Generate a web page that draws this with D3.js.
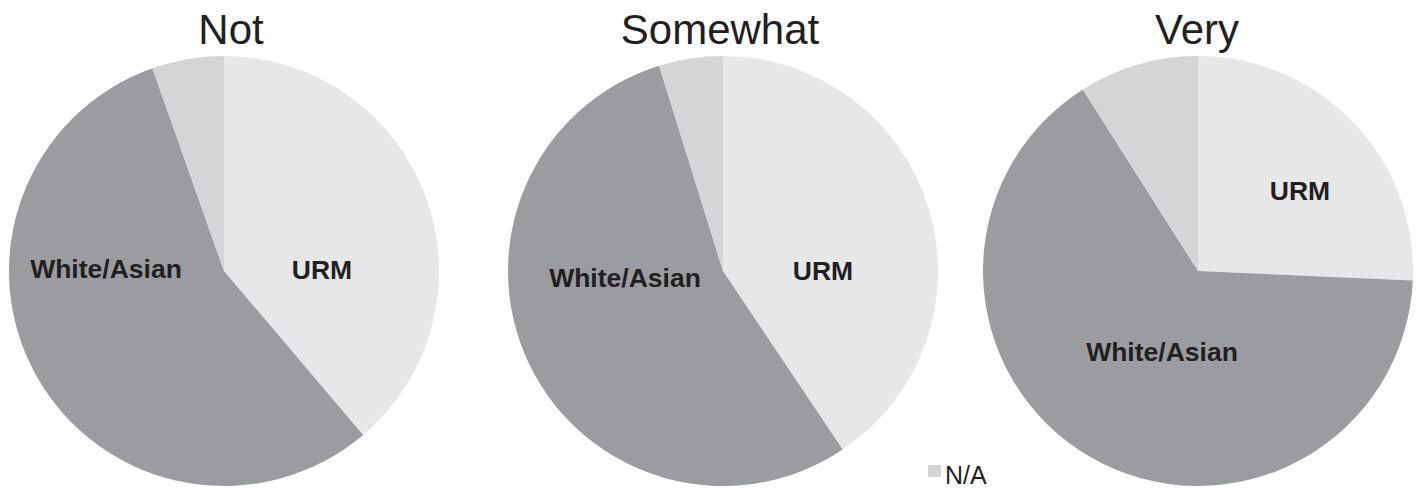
<!DOCTYPE html>
<html>
<head>
<meta charset="utf-8">
<script src="https://cdn.jsdelivr.net/npm/d3@7"></script>
<style>
  body { margin: 0; background: #fff; }
  text { font-family: "Liberation Sans", Arial, Helvetica, sans-serif; fill: #231f20; }
</style>
</head>
<body>
<div id="chart"></div>
<script>
// data
var panels = ["Not", "Somewhat", "Very"];
var categories = ["URM", "White/Asian", "N/A"];
var urmShare = [38.8, 40.6, 25.7];
var whiteAsianShare = [55.8, 54.6, 65.3];
var naShare = [5.4, 4.8, 9.0];

var width = 1419, height = 489;
var radius = 215;
var centersX = [224, 723, 1198], centerY = 271;

// layout only: title shift and label offsets from the pie centre
var titleShift = [7, -3, -1];
var labelOffsets = [
  [[98, -1], [-118, -2]],
  [[100, 0], [-98, 7]],
  [[102, -80], [-36, 81]]
];

var color = d3.scaleOrdinal()
    .domain(categories)
    .range(["#e6e7e9", "#9b9ca0", "#d4d5d7"]);

var svg = d3.select("#chart").append("svg")
    .attr("width", width)
    .attr("height", height);

var pie = d3.pie()
    .sort(null)
    .value(function(d) { return d.value; });

var arc = d3.arc().innerRadius(0).outerRadius(radius);

panels.forEach(function(name, i) {
  var slices = [
    {key: categories[0], value: urmShare[i]},
    {key: categories[1], value: whiteAsianShare[i]},
    {key: categories[2], value: naShare[i]}
  ];

  var g = svg.append("g")
      .attr("transform", "translate(" + centersX[i] + "," + centerY + ")");

  g.selectAll(".slice")
    .data(pie(slices))
    .enter().append("path")
    .attr("class", "slice")
    .attr("d", arc)
    .attr("fill", function(d) { return color(d.data.key); });

  // title
  g.append("text")
    .attr("x", titleShift[i])
    .attr("y", 44 - centerY)
    .attr("text-anchor", "middle")
    .style("font-size", "42px")
    .text(name);

  // slice labels (URM, White/Asian)
  g.selectAll(".lbl")
    .data(slices.slice(0, 2))
    .enter().append("text")
    .attr("class", "lbl")
    .attr("x", function(d, j) { return labelOffsets[i][j][0]; })
    .attr("y", function(d, j) { return labelOffsets[i][j][1]; })
    .attr("dy", "0.35em")
    .attr("text-anchor", "middle")
    .style("font-size", "26.5px")
    .style("font-weight", "bold")
    .text(function(d) { return d.key; });
});

// legend
var legend = svg.append("g").attr("transform", "translate(928,465)");
legend.append("rect")
  .attr("width", 13).attr("height", 12)
  .attr("fill", color("N/A"));
legend.append("text")
  .attr("x", 17).attr("y", 19)
  .style("font-size", "25px")
  .text("N/A");
</script>
</body>
</html>
